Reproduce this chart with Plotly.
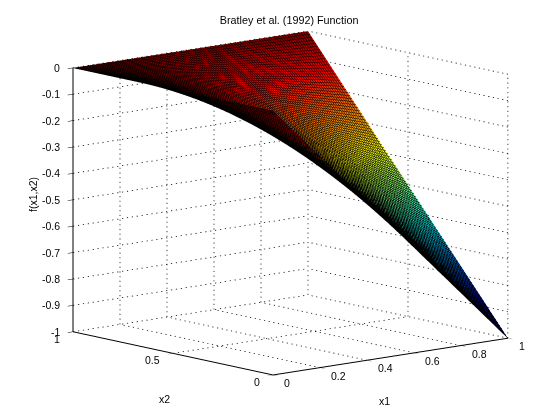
"""Bratley et al. (1992) function surface."""

import math

import plotly.graph_objects as go

X1 = [0, 0.05, 0.1, 0.15, 0.2, 0.25, 0.3, 0.35, 0.4, 0.45, 0.5, 0.55, 0.6, 0.65, 0.7, 0.75, 0.8, 0.85, 0.9, 0.95, 1]
X2 = [0, 0.05, 0.1, 0.15, 0.2, 0.25, 0.3, 0.35, 0.4, 0.45, 0.5, 0.55, 0.6, 0.65, 0.7, 0.75, 0.8, 0.85, 0.9, 0.95, 1]

# one row per x2 value
F = [
    [0, -0.05, -0.1, -0.15, -0.2, -0.25, -0.3, -0.35, -0.4, -0.45, -0.5, -0.55, -0.6, -0.65, -0.7, -0.75, -0.8, -0.85, -0.9, -0.95, -1],
    [0, -0.0475, -0.095, -0.1425, -0.19, -0.2375, -0.285, -0.3325, -0.38, -0.4275, -0.475, -0.5225, -0.57, -0.6175, -0.665, -0.7125, -0.76, -0.8075, -0.855, -0.9025, -0.95],
    [0, -0.045, -0.09, -0.135, -0.18, -0.225, -0.27, -0.315, -0.36, -0.405, -0.45, -0.495, -0.54, -0.585, -0.63, -0.675, -0.72, -0.765, -0.81, -0.855, -0.9],
    [0, -0.0425, -0.085, -0.1275, -0.17, -0.2125, -0.255, -0.2975, -0.34, -0.3825, -0.425, -0.4675, -0.51, -0.5525, -0.595, -0.6375, -0.68, -0.7225, -0.765, -0.8075, -0.85],
    [0, -0.04, -0.08, -0.12, -0.16, -0.2, -0.24, -0.28, -0.32, -0.36, -0.4, -0.44, -0.48, -0.52, -0.56, -0.6, -0.64, -0.68, -0.72, -0.76, -0.8],
    [0, -0.0375, -0.075, -0.1125, -0.15, -0.1875, -0.225, -0.2625, -0.3, -0.3375, -0.375, -0.4125, -0.45, -0.4875, -0.525, -0.5625, -0.6, -0.6375, -0.675, -0.7125, -0.75],
    [0, -0.035, -0.07, -0.105, -0.14, -0.175, -0.21, -0.245, -0.28, -0.315, -0.35, -0.385, -0.42, -0.455, -0.49, -0.525, -0.56, -0.595, -0.63, -0.665, -0.7],
    [0, -0.0325, -0.065, -0.0975, -0.13, -0.1625, -0.195, -0.2275, -0.26, -0.2925, -0.325, -0.3575, -0.39, -0.4225, -0.455, -0.4875, -0.52, -0.5525, -0.585, -0.6175, -0.65],
    [0, -0.03, -0.06, -0.09, -0.12, -0.15, -0.18, -0.21, -0.24, -0.27, -0.3, -0.33, -0.36, -0.39, -0.42, -0.45, -0.48, -0.51, -0.54, -0.57, -0.6],
    [0, -0.0275, -0.055, -0.0825, -0.11, -0.1375, -0.165, -0.1925, -0.22, -0.2475, -0.275, -0.3025, -0.33, -0.3575, -0.385, -0.4125, -0.44, -0.4675, -0.495, -0.5225, -0.55],
    [0, -0.025, -0.05, -0.075, -0.1, -0.125, -0.15, -0.175, -0.2, -0.225, -0.25, -0.275, -0.3, -0.325, -0.35, -0.375, -0.4, -0.425, -0.45, -0.475, -0.5],
    [0, -0.0225, -0.045, -0.0675, -0.09, -0.1125, -0.135, -0.1575, -0.18, -0.2025, -0.225, -0.2475, -0.27, -0.2925, -0.315, -0.3375, -0.36, -0.3825, -0.405, -0.4275, -0.45],
    [0, -0.02, -0.04, -0.06, -0.08, -0.1, -0.12, -0.14, -0.16, -0.18, -0.2, -0.22, -0.24, -0.26, -0.28, -0.3, -0.32, -0.34, -0.36, -0.38, -0.4],
    [0, -0.0175, -0.035, -0.0525, -0.07, -0.0875, -0.105, -0.1225, -0.14, -0.1575, -0.175, -0.1925, -0.21, -0.2275, -0.245, -0.2625, -0.28, -0.2975, -0.315, -0.3325, -0.35],
    [0, -0.015, -0.03, -0.045, -0.06, -0.075, -0.09, -0.105, -0.12, -0.135, -0.15, -0.165, -0.18, -0.195, -0.21, -0.225, -0.24, -0.255, -0.27, -0.285, -0.3],
    [0, -0.0125, -0.025, -0.0375, -0.05, -0.0625, -0.075, -0.0875, -0.1, -0.1125, -0.125, -0.1375, -0.15, -0.1625, -0.175, -0.1875, -0.2, -0.2125, -0.225, -0.2375, -0.25],
    [0, -0.01, -0.02, -0.03, -0.04, -0.05, -0.06, -0.07, -0.08, -0.09, -0.1, -0.11, -0.12, -0.13, -0.14, -0.15, -0.16, -0.17, -0.18, -0.19, -0.2],
    [0, -0.0075, -0.015, -0.0225, -0.03, -0.0375, -0.045, -0.0525, -0.06, -0.0675, -0.075, -0.0825, -0.09, -0.0975, -0.105, -0.1125, -0.12, -0.1275, -0.135, -0.1425, -0.15],
    [0, -0.005, -0.01, -0.015, -0.02, -0.025, -0.03, -0.035, -0.04, -0.045, -0.05, -0.055, -0.06, -0.065, -0.07, -0.075, -0.08, -0.085, -0.09, -0.095, -0.1],
    [0, -0.0025, -0.005, -0.0075, -0.01, -0.0125, -0.015, -0.0175, -0.02, -0.0225, -0.025, -0.0275, -0.03, -0.0325, -0.035, -0.0375, -0.04, -0.0425, -0.045, -0.0475, -0.05],
    [0, 0, 0, 0, 0, 0, 0, 0, 0, 0, 0, 0, 0, 0, 0, 0, 0, 0, 0, 0, 0],
]

X1_TICKS = [0, 0.2, 0.4, 0.6, 0.8, 1]
X2_TICKS = [0, 0.5, 1]
Z_TICKS = [-1, -0.9, -0.8, -0.7, -0.6, -0.5, -0.4, -0.3, -0.2, -0.1, 0]

JET = [
    [0.0, "rgb(0,0,143)"],
    [0.125, "rgb(0,0,255)"],
    [0.375, "rgb(0,255,255)"],
    [0.625, "rgb(255,255,0)"],
    [0.875, "rgb(255,0,0)"],
    [1.0, "rgb(128,0,0)"],
]

FONT = {"family": "Liberation Sans, Arial, sans-serif", "size": 10.5, "color": "black"}

# dots along a grid line running in each axis direction
DOTS_X1 = 48
DOTS_X2 = 43
DOTS_Z = 56
DOT_LENGTH = 0.25  # fraction of one dot period that is inked


def _grid_dots():
    """Dotted grid on the floor and the two back walls, as short gapped segments."""
    xs, ys, zs = [], [], []

    def add(a, b, dots):
        for k in range(dots + 1):
            s0 = k / dots
            s1 = min(1, (k + DOT_LENGTH) / dots)
            xs.extend([a[0] + (b[0] - a[0]) * s0, a[0] + (b[0] - a[0]) * s1, None])
            ys.extend([a[1] + (b[1] - a[1]) * s0, a[1] + (b[1] - a[1]) * s1, None])
            zs.extend([a[2] + (b[2] - a[2]) * s0, a[2] + (b[2] - a[2]) * s1, None])

    for t in X1_TICKS:
        add((t, 0, -1), (t, 1, -1), DOTS_X2)
        add((t, 1, -1), (t, 1, 0), DOTS_Z)
    for t in X2_TICKS:
        add((0, t, -1), (1, t, -1), DOTS_X1)
        add((1, t, -1), (1, t, 0), DOTS_Z)
    for t in Z_TICKS:
        add((0, 1, t), (1, 1, t), DOTS_X1)
        add((1, 0, t), (1, 1, t), DOTS_X2)
    return xs, ys, zs


def _axis(tickvals, axis_range):
    return {
        "title": {"text": ""},
        "range": axis_range,
        "tickmode": "array",
        "tickvals": tickvals,
        "showticklabels": False,
        "ticks": "outside",
        "ticklen": 7,
        "tickcolor": "black",
        "showgrid": False,
        "zeroline": False,
        "showline": True,
        "linecolor": "black",
        "linewidth": 2,
        "showbackground": False,
        "showspikes": False,
    }


def _label(text, x, y, z, anchor, xshift, yshift, angle=0):
    return {
        "text": str(text),
        "x": x,
        "y": y,
        "z": z,
        "showarrow": False,
        "xanchor": anchor,
        "yanchor": "middle",
        "xshift": xshift,
        "yshift": yshift,
        "textangle": angle,
        "font": FONT,
    }


labels = []
for t in X1_TICKS:
    labels.append(_label(t, t, 0, -1, "left", 9, -8))
for t in X2_TICKS:
    labels.append(_label(t, 0, t, -1, "right", -11, -7))
for t in Z_TICKS:
    labels.append(_label(t, 0, 1, t, "right", -11, 0))
labels.append(_label("x1", 0.5, 0, -1, "center", -6, -44))
labels.append(_label("x2", 0, 0.5, -1, "center", -9, -46))
labels.append(_label("f(x1,x2)", 0, 1, -0.5, "center", -40, 5, angle=-90))

fig = go.Figure()
grid_x, grid_y, grid_z = _grid_dots()
fig.add_trace(
    go.Scatter3d(
        x=grid_x,
        y=grid_y,
        z=grid_z,
        mode="lines",
        line={"color": "black", "width": 1.5},
        hoverinfo="skip",
        showlegend=False,
    )
)
fig.add_trace(
    go.Surface(
        x=X1,
        y=X2,
        z=F,
        cmin=-1,
        cmax=0,
        colorscale=JET,
        showscale=False,
        lighting={"ambient": 1, "diffuse": 0, "specular": 0, "fresnel": 0},
        contours={
            "x": {"show": True, "start": 0, "end": 1, "size": 0.01, "color": "black", "width": 1},
            "y": {"show": True, "start": 0, "end": 1, "size": 0.01, "color": "black", "width": 1},
        },
    )
)

az = math.radians(229.6)
el = math.radians(10.6)
eye_r = 1.30

fig.update_layout(
    width=560,
    height=420,
    paper_bgcolor="white",
    margin={"l": 0, "r": 0, "t": 0, "b": 0},
    title={
        "text": "Bratley et al. (1992) Function",
        "font": {**FONT, "size": 10.8},
        "x": 0.502,
        "xanchor": "center",
        "y": 0.971,
        "yanchor": "middle",
    },
    scene={
        "domain": {"x": [0.009, 1], "y": [0.0714, 1]},
        "aspectmode": "manual",
        "aspectratio": {"x": 1.582, "y": 1.582, "z": 1.377},
        "camera": {
            "projection": {"type": "orthographic"},
            "up": {"x": 0, "y": 0, "z": 1},
            "center": {"x": 0, "y": 0, "z": 0},
            "eye": {
                "x": eye_r * math.cos(el) * math.cos(az),
                "y": eye_r * math.cos(el) * math.sin(az),
                "z": eye_r * math.sin(el),
            },
        },
        "xaxis": _axis(X1_TICKS, [0, 1]),
        "yaxis": _axis(X2_TICKS, [0, 1]),
        "zaxis": _axis(Z_TICKS, [-1, 0]),
        "annotations": labels,
    },
)

fig.write_html("out.html")
